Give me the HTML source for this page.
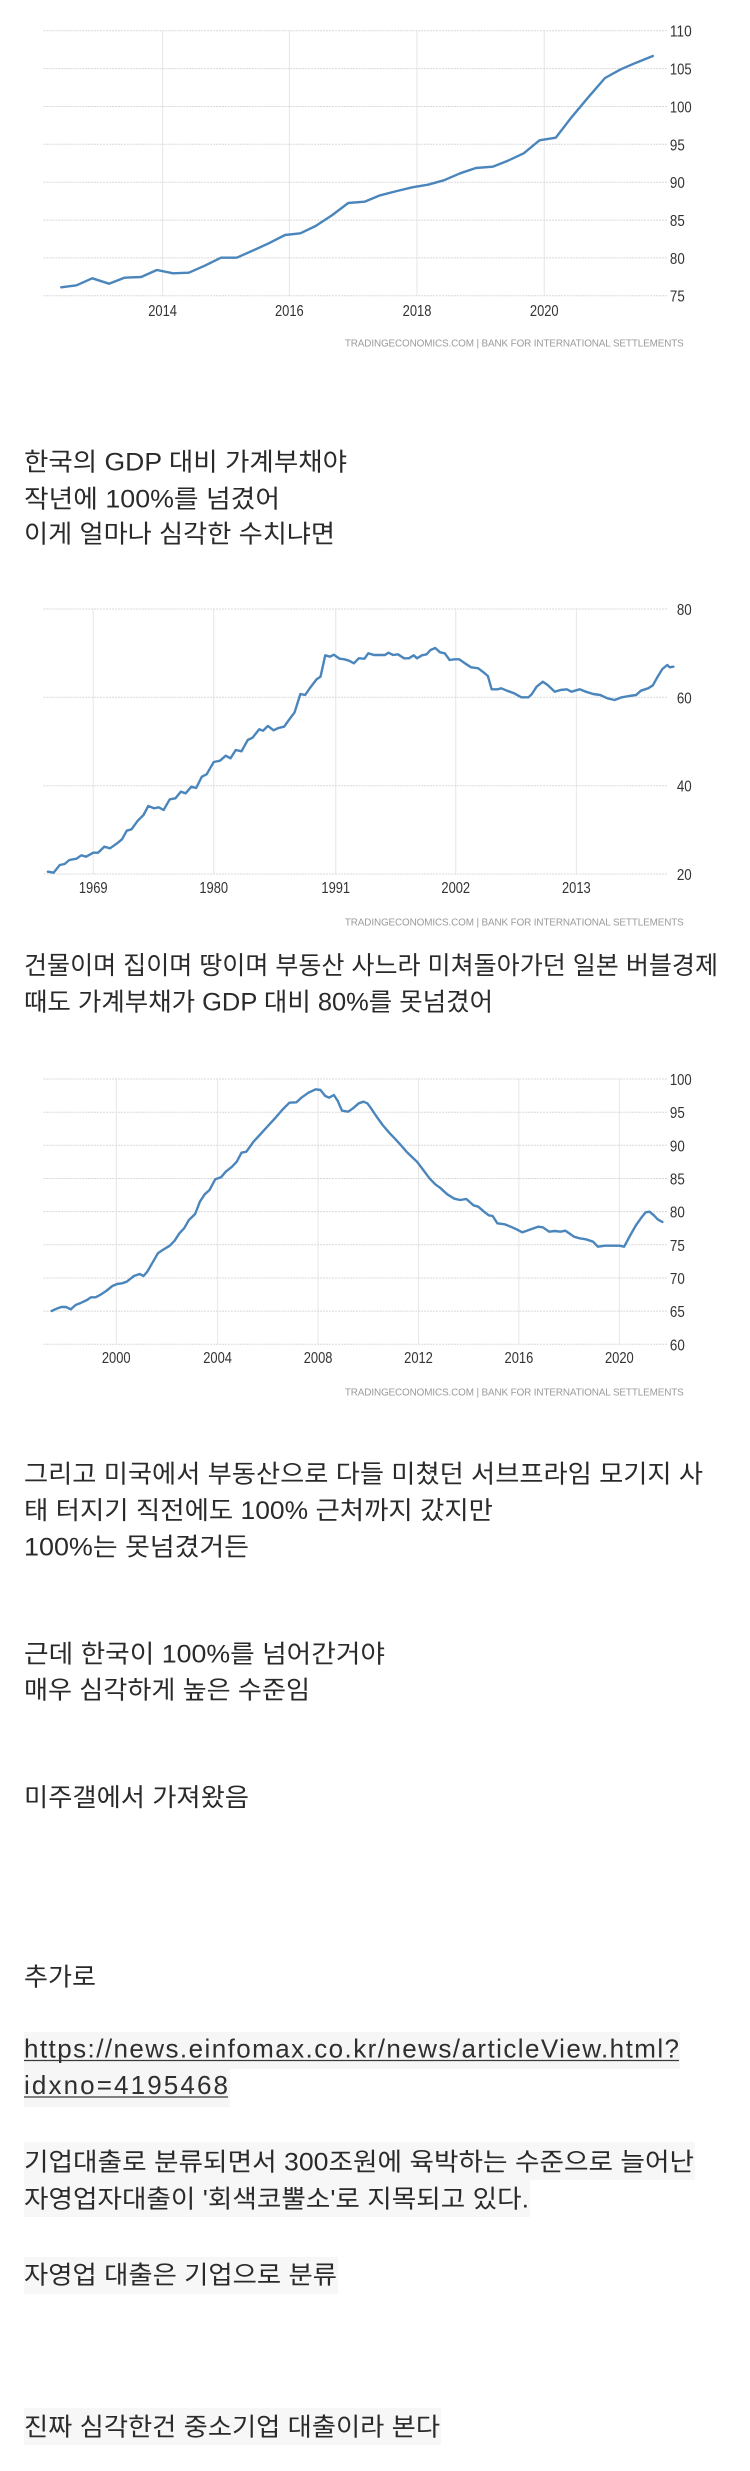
<!DOCTYPE html>
<html>
<head>
<meta charset="utf-8">
<style>
html,body{margin:0;padding:0;background:#fff;}
body{width:750px;height:2471px;overflow:hidden;}
svg{display:block;}
.t{font-family:"Liberation Sans","Noto Sans CJK KR",sans-serif;font-size:25px;fill:#2a2a2a;}
.u{font-family:"Liberation Sans","Noto Sans CJK KR",sans-serif;font-size:26px;fill:#2f2f2f;}
.ax{font-family:"Liberation Sans",sans-serif;font-size:16px;fill:#333;}
.ft{font-family:"Liberation Sans",sans-serif;font-size:10px;fill:#9a9a9a;}
.hg{stroke:#d8d8d8;stroke-width:1;stroke-dasharray:2 1;fill:none;}
.vg{stroke:#e6e6e6;stroke-width:1;fill:none;}
.ln{stroke:#4a85bb;stroke-width:2.4;fill:none;stroke-linejoin:round;stroke-linecap:round;}
</style>
</head>
<body>
<svg width="750" height="2471" viewBox="0 0 750 2471" xmlns="http://www.w3.org/2000/svg">
<rect x="0" y="0" width="750" height="2471" fill="#fff"/>

<!-- ============ CHART 1 : Korea ============ -->
<g transform="scale(0.991 1)">
  <g class="vg">
    <line x1="164.1" y1="30.7" x2="164.1" y2="295.7"/>
    <line x1="292" y1="30.7" x2="292" y2="295.7"/>
    <line x1="420.8" y1="30.7" x2="420.8" y2="295.7"/>
    <line x1="549.2" y1="30.7" x2="549.2" y2="295.7"/>
  </g>
  <g class="hg">
    <line x1="44" y1="30.7" x2="673" y2="30.7"/>
    <line x1="44" y1="68.6" x2="673" y2="68.6"/>
    <line x1="44" y1="106.5" x2="673" y2="106.5"/>
    <line x1="44" y1="144.3" x2="673" y2="144.3"/>
    <line x1="44" y1="182.2" x2="673" y2="182.2"/>
    <line x1="44" y1="220.1" x2="673" y2="220.1"/>
    <line x1="44" y1="257.9" x2="673" y2="257.9"/>
    <line x1="44" y1="295.7" x2="673" y2="295.7"/>
  </g>
  <g class="ax">
    <text x="676" y="36.7" textLength="22" lengthAdjust="spacingAndGlyphs">110</text>
    <text x="676" y="74.6" textLength="22" lengthAdjust="spacingAndGlyphs">105</text>
    <text x="676" y="112.5" textLength="22" lengthAdjust="spacingAndGlyphs">100</text>
    <text x="676" y="150.3" textLength="15" lengthAdjust="spacingAndGlyphs">95</text>
    <text x="676" y="188.2" textLength="15" lengthAdjust="spacingAndGlyphs">90</text>
    <text x="676" y="226.1" textLength="15" lengthAdjust="spacingAndGlyphs">85</text>
    <text x="676" y="263.9" textLength="15" lengthAdjust="spacingAndGlyphs">80</text>
    <text x="676" y="301.7" textLength="15" lengthAdjust="spacingAndGlyphs">75</text>
    <text x="149.6" y="316" textLength="29" lengthAdjust="spacingAndGlyphs">2014</text>
    <text x="277.5" y="316" textLength="29" lengthAdjust="spacingAndGlyphs">2016</text>
    <text x="406.3" y="316" textLength="29" lengthAdjust="spacingAndGlyphs">2018</text>
    <text x="534.7" y="316" textLength="29" lengthAdjust="spacingAndGlyphs">2020</text>
  </g>
  <text class="ft" x="348" y="346.5" textLength="342" lengthAdjust="spacing">TRADINGECONOMICS.COM | BANK FOR INTERNATIONAL SETTLEMENTS</text>
  <polyline class="ln" points="61.8,287.3 77.2,285.3 93.1,278.3 110,283.7 125.5,277.7 142.4,277 158.3,270 174.7,273.3 190.6,272.7 206.6,265.7 223,257.7 238.9,257.7 254.8,250.7 271.2,243.3 287.6,235 303.1,233.3 318.5,226 335.4,215 351.4,203 367.8,201.7 383.7,195.3 400.6,191 416,187.3 431.9,184.7 447.9,180.3 464.3,173.3 480.2,168 497.1,166.7 512.5,160.7 528.5,153.3 544.4,140.3 560.8,137.7 576.7,117.3 593.6,97.3 610.5,78 626.4,69.3 641.9,62.7 658.8,56"/>
</g>

<!-- text block 1 -->
<text class="t" x="24" y="470.7" textLength="323" lengthAdjust="spacingAndGlyphs">한국의 GDP 대비 가계부채야</text>
<text class="t" x="24" y="507.3" textLength="256" lengthAdjust="spacingAndGlyphs">작년에 100%를 넘겼어</text>
<text class="t" x="24" y="542.3" textLength="311" lengthAdjust="spacingAndGlyphs">이게 얼마나 심각한 수치냐면</text>

<!-- ============ CHART 2 : Japan ============ -->
<g transform="scale(0.991 1)">
  <g class="vg">
    <line x1="94.1" y1="609" x2="94.1" y2="874"/>
    <line x1="215.7" y1="609" x2="215.7" y2="874"/>
    <line x1="338.8" y1="609" x2="338.8" y2="874"/>
    <line x1="459.9" y1="609" x2="459.9" y2="874"/>
    <line x1="581.6" y1="609" x2="581.6" y2="874"/>
  </g>
  <g class="hg">
    <line x1="44" y1="609" x2="673" y2="609"/>
    <line x1="44" y1="697.3" x2="673" y2="697.3"/>
    <line x1="44" y1="785.7" x2="673" y2="785.7"/>
    <line x1="44" y1="874" x2="673" y2="874"/>
  </g>
  <g class="ax">
    <text x="683" y="615" textLength="15" lengthAdjust="spacingAndGlyphs">80</text>
    <text x="683" y="703.3" textLength="15" lengthAdjust="spacingAndGlyphs">60</text>
    <text x="683" y="791.7" textLength="15" lengthAdjust="spacingAndGlyphs">40</text>
    <text x="683" y="880" textLength="15" lengthAdjust="spacingAndGlyphs">20</text>
    <text x="79.6" y="893" textLength="29" lengthAdjust="spacingAndGlyphs">1969</text>
    <text x="201.2" y="893" textLength="29" lengthAdjust="spacingAndGlyphs">1980</text>
    <text x="324.3" y="893" textLength="29" lengthAdjust="spacingAndGlyphs">1991</text>
    <text x="445.4" y="893" textLength="29" lengthAdjust="spacingAndGlyphs">2002</text>
    <text x="567.1" y="893" textLength="29" lengthAdjust="spacingAndGlyphs">2013</text>
  </g>
  <text class="ft" x="348" y="925.5" textLength="342" lengthAdjust="spacing">TRADINGECONOMICS.COM | BANK FOR INTERNATIONAL SETTLEMENTS</text>
  <polyline class="ln" points="48.3,871.7 54.1,872.7 60.3,865 65.2,864 70,860 77.2,858.7 82,855.3 86.9,856.7 94.1,852.7 98.9,852.7 105.2,846.7 111,848.3 118.2,843.3 123.1,839.3 127.9,830.7 132.7,829.3 139,820.7 144.8,815 149.6,806 155.4,808.3 160.2,807.3 165.1,810 171.3,799.3 177.1,798.3 182.4,791.7 187.3,793.3 193.1,786.7 197.9,788 203.7,776.7 208.5,774.3 215.7,762 222,760.7 227.8,755.7 232.6,758.3 237.9,750 243.7,751.3 250,740 254.8,737.7 261.6,729.3 265.4,730.7 270.3,726 276.1,730.3 280.9,728 286.7,726.7 291.5,720 297.3,712.3 303.1,694 307.9,695 313.7,686.7 319.5,679.3 323.4,676.7 328.2,655.3 333,656.7 336.9,654.7 342.7,658.7 347.5,659.3 352.3,660.7 357.1,663.3 362,658.3 367.8,658.7 371.6,653.3 377.4,655 383.7,655 388.5,655 391.9,652.7 396.7,655 401.5,654.3 407.8,658.3 412.6,658.3 417.5,655.3 420.8,658.3 425.7,655.3 430.5,654.3 434.4,650 439.2,648 444,652.3 448.8,653.3 453.7,660 458.5,659.3 463.3,659.3 469.1,663.3 475.4,667.3 482.6,668.3 488.4,672.7 492.3,676 496.1,689.3 501.9,689.3 505.8,688.3 511.6,690.7 518.8,693.3 526.1,697.3 533.3,697.3 536.7,694 541.5,686.7 547.8,681.7 552.6,685 559.8,691.7 565.6,690 571.9,689.3 576.7,691.7 585,689.3 591.2,691.7 598.5,694 605.7,695 612.9,698.3 620.2,700 627.4,697.3 634.7,696 641.9,695 646.7,690.7 654,688.3 658.8,685.3 663.6,676.7 668.4,669 673.3,665 675.7,667.3 679.5,666.7"/>
</g>

<!-- text block 2 -->
<text class="t" x="24" y="974" textLength="694" lengthAdjust="spacingAndGlyphs">건물이며 집이며 땅이며 부동산 사느라 미쳐돌아가던 일본 버블경제</text>
<text class="t" x="24" y="1010.7" textLength="469" lengthAdjust="spacingAndGlyphs">때도 가계부채가 GDP 대비 80%를 못넘겼어</text>

<!-- ============ CHART 3 : US ============ -->
<g transform="scale(0.991 1)">
  <g class="vg">
    <line x1="117.3" y1="1079" x2="117.3" y2="1344.3"/>
    <line x1="219.6" y1="1079" x2="219.6" y2="1344.3"/>
    <line x1="321" y1="1079" x2="321" y2="1344.3"/>
    <line x1="422.3" y1="1079" x2="422.3" y2="1344.3"/>
    <line x1="523.6" y1="1079" x2="523.6" y2="1344.3"/>
    <line x1="625" y1="1079" x2="625" y2="1344.3"/>
  </g>
  <g class="hg">
    <line x1="44" y1="1079" x2="673" y2="1079"/>
    <line x1="44" y1="1112.2" x2="673" y2="1112.2"/>
    <line x1="44" y1="1145.3" x2="673" y2="1145.3"/>
    <line x1="44" y1="1178.5" x2="673" y2="1178.5"/>
    <line x1="44" y1="1211.6" x2="673" y2="1211.6"/>
    <line x1="44" y1="1244.8" x2="673" y2="1244.8"/>
    <line x1="44" y1="1278" x2="673" y2="1278"/>
    <line x1="44" y1="1311.1" x2="673" y2="1311.1"/>
    <line x1="44" y1="1344.3" x2="673" y2="1344.3"/>
  </g>
  <g class="ax">
    <text x="676" y="1085" textLength="22" lengthAdjust="spacingAndGlyphs">100</text>
    <text x="676" y="1118.2" textLength="15" lengthAdjust="spacingAndGlyphs">95</text>
    <text x="676" y="1151.3" textLength="15" lengthAdjust="spacingAndGlyphs">90</text>
    <text x="676" y="1184.5" textLength="15" lengthAdjust="spacingAndGlyphs">85</text>
    <text x="676" y="1217.6" textLength="15" lengthAdjust="spacingAndGlyphs">80</text>
    <text x="676" y="1250.8" textLength="15" lengthAdjust="spacingAndGlyphs">75</text>
    <text x="676" y="1284" textLength="15" lengthAdjust="spacingAndGlyphs">70</text>
    <text x="676" y="1317.1" textLength="15" lengthAdjust="spacingAndGlyphs">65</text>
    <text x="676" y="1350.3" textLength="15" lengthAdjust="spacingAndGlyphs">60</text>
    <text x="102.8" y="1363" textLength="29" lengthAdjust="spacingAndGlyphs">2000</text>
    <text x="205.1" y="1363" textLength="29" lengthAdjust="spacingAndGlyphs">2004</text>
    <text x="306.5" y="1363" textLength="29" lengthAdjust="spacingAndGlyphs">2008</text>
    <text x="407.8" y="1363" textLength="29" lengthAdjust="spacingAndGlyphs">2012</text>
    <text x="509.1" y="1363" textLength="29" lengthAdjust="spacingAndGlyphs">2016</text>
    <text x="610.5" y="1363" textLength="29" lengthAdjust="spacingAndGlyphs">2020</text>
  </g>
  <text class="ft" x="348" y="1395.5" textLength="342" lengthAdjust="spacing">TRADINGECONOMICS.COM | BANK FOR INTERNATIONAL SETTLEMENTS</text>
  <polyline class="ln" points="52.1,1311 57,1308.7 61.8,1307 66.6,1307 71.4,1309.3 76.3,1305 82,1302.7 87.8,1300 91.7,1297.3 96.5,1297.3 101.4,1294.7 107.1,1291 113.4,1286 118.2,1284 123.1,1283.3 127.9,1281.7 135.1,1276 140.9,1274 144.8,1276 148.6,1271.7 153.5,1263.3 159.3,1253.3 164.1,1250 171.3,1245.7 176.2,1240.7 181,1233.3 185.8,1228.3 190.6,1220 196.9,1214 201.7,1201.7 206.6,1194.3 211.4,1190 217.2,1179.3 223,1177.3 227.8,1171.7 234.1,1166.7 238.9,1161.7 243.7,1152.7 248.6,1151.7 255.8,1141.7 263,1134 270.3,1126 277.5,1118.3 284.7,1110 292,1102.7 299.2,1102.3 304.1,1097.7 311.3,1092.7 318.5,1089.3 323.4,1090 328.2,1096 332,1097.7 336.9,1095 340.7,1100.7 345.1,1110.7 351.4,1111.7 356.2,1108.3 362,1103.3 366.8,1101.7 370.7,1103.3 374,1107.7 378.9,1115 386.1,1125 393.3,1133.3 398.2,1138.3 404.4,1145 410.2,1151.7 416,1157.3 420.8,1161.7 427.1,1170 433.4,1178.3 439.2,1184.3 444,1187.7 451.3,1194.3 458.5,1198.7 464.3,1200 470.6,1199 477.8,1205.3 482.6,1206.7 488.4,1211.7 493.2,1215.3 497.1,1216 501.9,1223.3 509.2,1224.3 515.4,1226.7 521.2,1229.3 527,1232.3 530.9,1231 535.7,1229.3 543,1226.7 547.8,1227.3 554.1,1231.7 559.8,1231 565.6,1231.7 570.5,1230.7 574.3,1233.3 579.2,1236.7 584.9,1238.3 591.2,1239.3 598.5,1241.7 603.3,1246.7 610.5,1245.7 617.8,1245.7 625,1245.7 629.8,1246.7 636.1,1235 641.9,1225 646.7,1218.3 651.5,1212.3 655.4,1211.7 660.2,1215.7 663.6,1219.3 668.4,1222"/>
</g>

<!-- text block 3 -->
<text class="t" x="24" y="1482.3" textLength="679" lengthAdjust="spacingAndGlyphs">그리고 미국에서 부동산으로 다들 미쳤던 서브프라임 모기지 사</text>
<text class="t" x="24" y="1519" textLength="469" lengthAdjust="spacingAndGlyphs">태 터지기 직전에도 100% 근처까지 갔지만</text>
<text class="t" x="24" y="1555.7" textLength="225" lengthAdjust="spacingAndGlyphs">100%는 못넘겼거든</text>

<text class="t" x="24" y="1662.3" textLength="361" lengthAdjust="spacingAndGlyphs">근데 한국이 100%를 넘어간거야</text>
<text class="t" x="24" y="1698.3" textLength="286" lengthAdjust="spacingAndGlyphs">매우 심각하게 높은 수준임</text>

<text class="t" x="24" y="1806" textLength="225" lengthAdjust="spacingAndGlyphs">미주갤에서 가져왔음</text>

<text class="t" x="24" y="1985.7" textLength="72" lengthAdjust="spacingAndGlyphs">추가로</text>

<!-- link block with light background -->
<rect x="24" y="2032" width="656" height="37" fill="#f6f6f6"/>
<rect x="24" y="2069" width="206" height="38" fill="#f6f6f6"/>
<text class="u" x="24" y="2057.5" textLength="655" lengthAdjust="spacing">https://news.einfomax.co.kr/news/articleView.html?</text>
<line x1="24" y1="2060.5" x2="679" y2="2060.5" stroke="#3a3a3a" stroke-width="1.3"/>
<text class="u" x="24" y="2094" textLength="204" lengthAdjust="spacing">idxno=4195468</text>
<line x1="24" y1="2097" x2="228" y2="2097" stroke="#3a3a3a" stroke-width="1.3"/>

<!-- quoted text with light background -->
<rect x="24" y="2142" width="671" height="38" fill="#f7f7f7"/>
<rect x="24" y="2180" width="506" height="37" fill="#f7f7f7"/>
<text class="t" x="24" y="2170.5" textLength="670" lengthAdjust="spacingAndGlyphs">기업대출로 분류되면서 300조원에 육박하는 수준으로 늘어난</text>
<text class="t" x="24" y="2207.3" textLength="505" lengthAdjust="spacingAndGlyphs">자영업자대출이 '회색코뿔소'로 지목되고 있다.</text>

<rect x="24" y="2257" width="314" height="37" fill="#f7f7f7"/>
<text class="t" x="24" y="2283.5" textLength="313" lengthAdjust="spacingAndGlyphs">자영업 대출은 기업으로 분류</text>

<rect x="24" y="2408" width="417" height="37" fill="#f7f7f7"/>
<text class="t" x="24" y="2435.7" textLength="416" lengthAdjust="spacingAndGlyphs">진짜 심각한건 중소기업 대출이라 본다</text>
</svg>
</body>
</html>
